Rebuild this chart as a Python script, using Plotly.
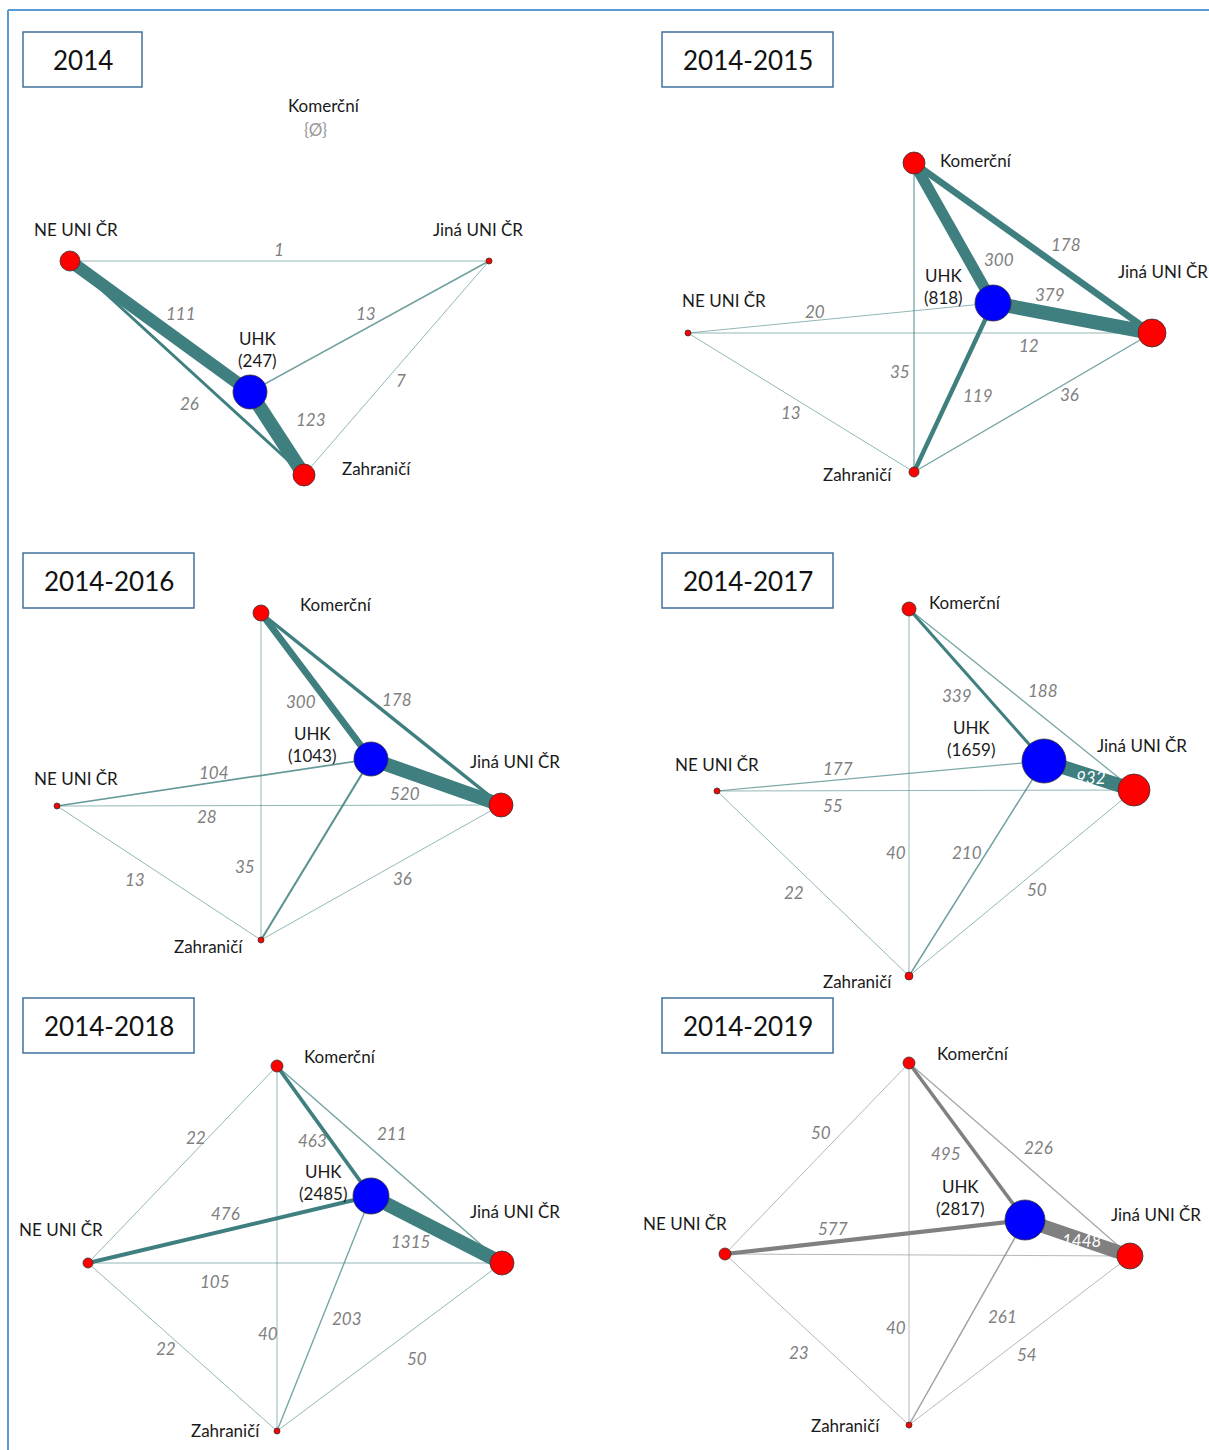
import plotly.graph_objects as go

# ---------------- DATA ----------------
PERIODS = ["2014", "2014-2015", "2014-2016", "2014-2017", "2014-2018", "2014-2019"]
NODE_NAMES = ["Komerční", "NE UNI ČR", "Jiná UNI ČR", "UHK", "Zahraničí"]
UHK_TOTALS = [247, 818, 1043, 1659, 2485, 2817]

# edge pairs (source, target)
EDGE_SOURCE = ["Komerční", "Komerční", "Komerční", "Komerční", "NE UNI ČR",
               "NE UNI ČR", "NE UNI ČR", "UHK", "UHK", "Jiná UNI ČR"]
EDGE_TARGET = ["NE UNI ČR", "UHK", "Jiná UNI ČR", "Zahraničí", "UHK",
               "Jiná UNI ČR", "Zahraničí", "Jiná UNI ČR", "Zahraničí", "Zahraničí"]

VALUES_2014 = [None, None, None, None, 111, 1, 26, 13, 123, 7]
VALUES_2014_2015 = [None, 300, 178, 35, 20, 12, 13, 379, 119, 36]
VALUES_2014_2016 = [None, 300, 178, 35, 104, 28, 13, 520, 119, 36]
VALUES_2014_2017 = [None, 339, 188, 40, 177, 55, 22, 932, 210, 50]
VALUES_2014_2018 = [22, 463, 211, 40, 476, 105, 22, 1315, 203, 50]
VALUES_2014_2019 = [50, 495, 226, 40, 577, 110, 23, 1448, 261, 54]
VALUES = [VALUES_2014, VALUES_2014_2015, VALUES_2014_2016,
          VALUES_2014_2017, VALUES_2014_2018, VALUES_2014_2019]
# edges drawn without a printed value in the reference
UNLABELED = {(2, 8), (5, 5)}

# ---------------- LAYOUT (positions / sizes / styles) ----------------
LAYOUT = {
    "2014": dict(
        box=(23, 32, 142, 87), wexp=1.0,
        nodes={"Komerční": (315, 140, 0), "NE UNI ČR": (70, 261, 10), "Jiná UNI ČR": (489, 261, 3),
               "UHK": (250, 392, 17), "Zahraničí": (304, 475, 11)},
        labels={"Komerční": (324, 105), "NE UNI ČR": (76, 229), "Jiná UNI ČR": (478, 229),
                "UHK": (257, 349), "Zahraničí": (376, 468)},
        elabels={4: (181, 313), 5: (279, 249), 6: (189, 403), 7: (366, 313), 8: (311, 419), 9: (401, 380)},
        color="#3f7f7f"),
    "2014-2015": dict(
        box=(662, 32, 833, 87), wexp=1.0,
        nodes={"Komerční": (914, 163, 11), "NE UNI ČR": (688, 333, 3), "Jiná UNI ČR": (1152, 333, 14),
               "UHK": (993, 303, 18), "Zahraničí": (914, 472, 5)},
        labels={"Komerční": (976, 160), "NE UNI ČR": (724, 300), "Jiná UNI ČR": (1163, 271),
                "UHK": (943, 286), "Zahraničí": (857, 474)},
        elabels={1: (999, 259), 2: (1066, 244), 3: (900, 371), 4: (815, 311), 5: (1029, 345),
                 6: (791, 412), 7: (1050, 294), 8: (978, 395), 9: (1069, 394)},
        color="#3f7f7f"),
    "2014-2016": dict(
        box=(23, 553, 194, 608), wexp=1.3,
        nodes={"Komerční": (261, 613, 8), "NE UNI ČR": (57, 806, 3), "Jiná UNI ČR": (501, 805, 12),
               "UHK": (371, 759, 17), "Zahraničí": (261, 940, 3)},
        labels={"Komerční": (336, 604), "NE UNI ČR": (76, 778), "Jiná UNI ČR": (515, 761),
                "UHK": (312, 744), "Zahraničí": (208, 946)},
        elabels={1: (301, 701), 2: (397, 699), 3: (245, 866), 4: (214, 772), 5: (207, 816),
                 6: (135, 879), 7: (405, 793), 9: (402, 878)},
        color="#3f7f7f"),
    "2014-2017": dict(
        box=(662, 553, 833, 608), wexp=1.5,
        nodes={"Komerční": (909, 609, 7), "NE UNI ČR": (717, 791, 3), "Jiná UNI ČR": (1134, 790, 16),
               "UHK": (1044, 761, 22), "Zahraničí": (909, 976, 4)},
        labels={"Komerční": (965, 602), "NE UNI ČR": (717, 764), "Jiná UNI ČR": (1142, 745),
                "UHK": (971, 738), "Zahraničí": (857, 981)},
        elabels={1: (957, 695), 2: (1043, 690), 3: (896, 852), 4: (838, 768), 5: (833, 805),
                 6: (794, 892), 7: (1091, 777), 8: (967, 852), 9: (1037, 889)},
        color="#3f7f7f"),
    "2014-2018": dict(
        box=(23, 998, 194, 1053), wexp=1.25,
        nodes={"Komerční": (277, 1066, 6), "NE UNI ČR": (88, 1263, 5), "Jiná UNI ČR": (502, 1263, 12),
               "UHK": (371, 1196, 18), "Zahraničí": (277, 1431, 3)},
        labels={"Komerční": (340, 1056), "NE UNI ČR": (61, 1229), "Jiná UNI ČR": (515, 1211),
                "UHK": (323, 1182), "Zahraničí": (225, 1430)},
        elabels={0: (196, 1137), 1: (312, 1140), 2: (392, 1133), 3: (268, 1333), 4: (225, 1213),
                 5: (215, 1281), 6: (166, 1348), 7: (410, 1241), 8: (347, 1318), 9: (417, 1358)},
        color="#3f7f7f"),
    "2014-2019": dict(
        box=(662, 998, 833, 1053), wexp=1.3,
        nodes={"Komerční": (909, 1063, 6), "NE UNI ČR": (725, 1254, 6), "Jiná UNI ČR": (1130, 1256, 13),
               "UHK": (1025, 1220, 20), "Zahraničí": (909, 1425, 3)},
        labels={"Komerční": (973, 1053), "NE UNI ČR": (685, 1223), "Jiná UNI ČR": (1156, 1214),
                "UHK": (960, 1197), "Zahraničí": (845, 1425)},
        elabels={0: (821, 1132), 1: (946, 1153), 2: (1038, 1147), 3: (896, 1327), 4: (833, 1228),
                 6: (799, 1352), 7: (1081, 1240), 8: (1002, 1316), 9: (1027, 1354)},
        color="#808080"),
}
WHITE_LABELS = {(3, 7), (5, 7)}
FONT = "Lato"
WMAX = 14

fig = go.Figure()
annotations = []
shapes = []

# outer border
shapes.append(dict(type="line", x0=8, y0=10, x1=1209, y1=10, line=dict(color="#5b9bd5", width=2)))
shapes.append(dict(type="line", x0=8, y0=10, x1=8, y1=1450, line=dict(color="#5b9bd5", width=2)))

for pi, period in enumerate(PERIODS):
    L = LAYOUT[period]
    vals = VALUES[pi]
    vmax = max(v for v in vals if v is not None)
    base = L["color"]
    r_, g_, b_ = int(base[1:3], 16), int(base[3:5], 16), int(base[5:7], 16)
    order = sorted([i for i, v in enumerate(vals) if v is not None], key=lambda i: vals[i])
    for ei in order:
        v = vals[ei]
        s, t = EDGE_SOURCE[ei], EDGE_TARGET[ei]
        xs, ys, _ = L["nodes"][s]
        xt, yt, _ = L["nodes"][t]
        w = max(0.9, WMAX * (v / vmax) ** L["wexp"])
        op = min(1.0, 0.45 + w / 5)
        fig.add_trace(go.Scatter(x=[xs, xt], y=[ys, yt], mode="lines",
                                 line=dict(color=f"rgba({r_},{g_},{b_},{op:.2f})", width=w),
                                 hoverinfo="skip", showlegend=False))
        if (pi, ei) not in UNLABELED and ei in L["elabels"]:
            lx, ly = L["elabels"][ei]
            col = "white" if (pi, ei) in WHITE_LABELS else "#808080"
            annotations.append(dict(x=lx, y=ly, text=f"<i>{v}</i>", showarrow=False,
                                    font=dict(family=FONT, size=17, color=col),
                                    xanchor="center", yanchor="middle"))
    # nodes
    for name in NODE_NAMES:
        x, y, r = L["nodes"][name]
        if r > 0:
            fig.add_trace(go.Scatter(x=[x], y=[y], mode="markers",
                                     marker=dict(size=2 * r, color="#0000ff" if name == "UHK" else "#ff0000",
                                                 line=dict(color="#333333", width=0.8)),
                                     hoverinfo="skip", showlegend=False))
        lx, ly = L["labels"][name]
        text = f"UHK<br>({UHK_TOTALS[pi]})" if name == "UHK" else name
        annotations.append(dict(x=lx, y=ly, text=text, showarrow=False,
                                font=dict(family=FONT, size=17, color="#1a1a1a"),
                                xanchor="center", yanchor="middle"))
        if r == 0:
            annotations.append(dict(x=lx - 9, y=ly + 24, text="{Ø}", showarrow=False,
                                    font=dict(family=FONT, size=17, color="#9a9a9a"),
                                    xanchor="center", yanchor="middle"))
    # title box
    x0, y0, x1, y1 = L["box"]
    shapes.append(dict(type="rect", x0=x0, y0=y0, x1=x1, y1=y1,
                       line=dict(color="#41719c", width=1.5), fillcolor="white", layer="above"))
    annotations.append(dict(x=(x0 + x1) / 2, y=(y0 + y1) / 2, text=period, showarrow=False,
                            font=dict(family=FONT, size=26, color="#111111"),
                            xanchor="center", yanchor="middle"))

fig.update_layout(
    width=1209, height=1450,
    margin=dict(l=0, r=0, t=0, b=0),
    paper_bgcolor="white", plot_bgcolor="white",
    xaxis=dict(range=[0, 1209], visible=False, fixedrange=True),
    yaxis=dict(range=[1450, 0], visible=False, fixedrange=True),
    shapes=shapes, annotations=annotations, showlegend=False,
)
fig.write_html("out.html",
               post_script="document.body.style.margin='0';document.body.style.overflow='hidden';",
               config={"displayModeBar": False})
